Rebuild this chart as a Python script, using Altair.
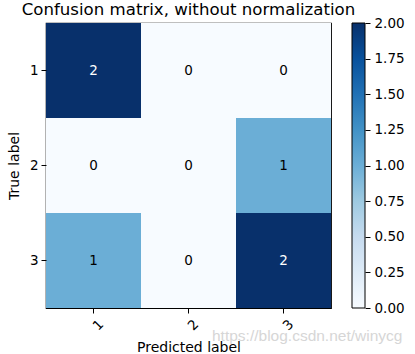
import altair as alt
import pandas as pd

classes = ["1", "2", "3"]
matrix = [[2, 0, 0], [0, 0, 1], [1, 0, 2]]
cbar_ticks = [0.0, 0.25, 0.5, 0.75, 1.0, 1.25, 1.5, 1.75, 2.0]
blues = ["#f7fbff", "#deebf7", "#c6dbef", "#9ecae1", "#6baed6",
         "#4292c6", "#2171b5", "#08519c", "#08306b"]
title_text = "Confusion matrix, without normalization"
watermark = "https://blog.csdn.net/winycg"

rows = []
for i, t in enumerate(classes):
    for j, p in enumerate(classes):
        rows.append({"true": t, "pred": p, "count": matrix[i][j]})
df = pd.DataFrame(rows)
thresh = max(max(r) for r in matrix) / 2.0

FONT = "DejaVu Sans"

color_scale = alt.Scale(domain=cbar_ticks, range=blues)

base = alt.Chart(df)
heat = base.mark_rect().encode(
    x=alt.X("pred:N", sort=classes, title="Predicted label",
            axis=alt.Axis(labelAngle=-45, labelAlign="center", labelBaseline="top",
                          labelPadding=7, titlePadding=8)),
    y=alt.Y("true:N", sort=classes, title="True label",
            axis=alt.Axis(labelAngle=0, labelPadding=3, titlePadding=8)),
    color=alt.Color("count:Q", scale=color_scale, legend=None),
)
txt = base.mark_text(font=FONT, fontSize=13.5).encode(
    x=alt.X("pred:N", sort=classes),
    y=alt.Y("true:N", sort=classes),
    text="count:Q",
    color=alt.condition(alt.datum.count > thresh, alt.value("white"), alt.value("black")),
)
wm = alt.Chart(pd.DataFrame({"t": [watermark]})).mark_text(
    font="Liberation Sans", fontSize=15.5, color="#d6d6d6", align="left",
    baseline="alphabetic"
).encode(x=alt.value(166), y=alt.value(318), text="t:N")

inner = alt.layer(heat, txt, wm)

cb_df = pd.DataFrame({"lo": [cbar_ticks[0]], "hi": [cbar_ticks[-1]]})
stops = [{"offset": i / (len(blues) - 1), "color": c} for i, c in enumerate(blues)]
cbar = alt.Chart(cb_df).mark_rect(
    fill={"gradient": "linear", "x1": 0, "y1": 1, "x2": 0, "y2": 0, "stops": stops},
    stroke="black", strokeWidth=1,
).encode(
    y=alt.Y("lo:Q", scale=alt.Scale(domain=[0, 2], nice=False, zero=False),
            axis=alt.Axis(orient="right", values=cbar_ticks, format=".2f", title=None,
                          labelPadding=4, offset=34)),
    y2="hi:Q",
    x=alt.value(306), x2=alt.value(319),
)

chart = alt.layer(inner, cbar).resolve_scale(y="independent").properties(
    width=285, height=285,
    title=alt.TitleParams(title_text, fontSize=16.6, font=FONT, fontWeight="normal",
                          color="black", offset=3, dy=6, anchor="middle"),
    padding={"left": 46, "top": 23, "right": 84, "bottom": 46},
    autosize=alt.AutoSizeParams(type="none"),
).configure_view(stroke="black", strokeWidth=1.2).configure_axis(
    labelFont=FONT, titleFont=FONT, labelFontSize=13.5, titleFontSize=14,
    labelColor="black", titleColor="black", domain=False, grid=False,
    tickColor="black", tickSize=5, titleFontWeight="normal",
)

chart.save("out.html", embed_options={"renderer": "svg", "actions": False})
